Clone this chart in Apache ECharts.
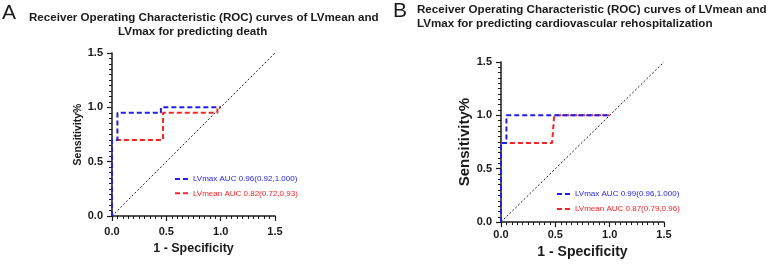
<!DOCTYPE html>
<html>
<head>
    <meta charset="UTF-8">
    <script type="text/javascript" src="https://cdn.jsdelivr.net/npm/echarts@6/dist/echarts.min.js"></script>
    <style type="text/css">
        *{
            margin: 0;
            padding: 0;
        }
        body{
            background: #fff;
        }
        #main{
            width: 779px;
            height: 264px;
        }
    </style>
</head>
<body>
<div id="main"></div>
<script type="text/javascript">
    // ROC points [1 - specificity, sensitivity]
    var maxDeath = [[0, 0], [0, 0.70], [0.05, 0.70], [0.05, 0.95], [0.45, 0.95], [0.45, 1.0], [1.0, 1.0]];
    var meanDeath = [[0, 0], [0, 0.70], [0.47, 0.70], [0.47, 0.95], [0.97, 0.95], [0.97, 1.0], [1.0, 1.0]];
    var maxRehosp = [[0, 0], [0, 0.74], [0.05, 0.74], [0.05, 1.0], [1.0, 1.0]];
    var meanRehosp = [[0, 0], [0, 0.74], [0.47, 0.74], [0.49, 1.0], [1.0, 1.0]];
    var refLine = [[0, 0], [1.5, 1.5]];

    var namesA = ['LVmax AUC 0.96(0.92,1.000)', 'LVmean AUC 0.82(0.72,0.93)'];
    var namesB = ['LVmax AUC 0.99(0.96,1.000)', 'LVmean AUC 0.87(0.79,0.96)'];
    var axisTicks = [0, 0.5, 1.0, 1.5];

    var BLUE = '#1f1fe6';
    var RED = '#f52525';
    var font = 'Liberation Sans, Arial, sans-serif';
    // two short dashes for the legend key
    var dashIcon = 'path://M0,0H5V2H0Z M8,0H13V2H8Z';

    function makeAxis(idx, isX, nameSize, nameGap, labelMargin) {
        return {
            type: 'value',
            gridIndex: idx,
            min: axisTicks[0],
            max: axisTicks[axisTicks.length - 1],
            interval: 0.5,
            name: isX ? '1 - Specificity' : 'Sensitivity%',
            nameLocation: 'middle',
            nameGap: nameGap,
            nameRotate: isX ? 0 : 90,
            nameTextStyle: {
                fontFamily: font,
                fontWeight: 'bold',
                fontSize: nameSize,
                color: '#1a1a1a'
            },
            axisLine: {show: true, onZero: false, lineStyle: {color: '#1a1a1a', width: 1.5}},
            axisTick: {show: true, inside: false, length: 5, lineStyle: {color: '#1a1a1a', width: 1.2}},
            minorTick: {show: true, splitNumber: 10, length: 3, lineStyle: {color: '#1a1a1a', width: 1}},
            splitLine: {show: false},
            axisLabel: {
                margin: labelMargin,
                fontFamily: font,
                fontWeight: 'bold',
                fontSize: 11,
                color: '#1a1a1a',
                formatter: function (v) { return v.toFixed(1); }
            }
        };
    }

    function rocSeries(name, data, color, idx) {
        return {
            name: name,
            type: 'line',
            xAxisIndex: idx,
            yAxisIndex: idx,
            data: data,
            showSymbol: false,
            symbol: 'none',
            silent: true,
            lineStyle: {color: color, width: 2, type: [5, 3]},
            itemStyle: {color: color}
        };
    }

    function diagSeries(idx) {
        return {
            type: 'line',
            xAxisIndex: idx,
            yAxisIndex: idx,
            data: refLine,
            showSymbol: false,
            symbol: 'none',
            silent: true,
            lineStyle: {color: '#222', width: 1, type: [2, 2]}
        };
    }

    function titleText(text, left, top, size, weight) {
        return {
            text: text, left: left, top: top, padding: 0,
            textStyle: {fontFamily: font, fontWeight: weight, fontSize: size, color: '#1a1a1a'}
        };
    }

    var myChart = echarts.init(document.getElementById('main'), null, {renderer: 'canvas'});
    var option = {
        animation: false,
        title: [
            titleText('A', 2, 3, 21, 'normal'),
            titleText('Receiver Operating Characteristic (ROC) curves of LVmean and', 29, 11.5, 11.6, 'bold'),
            titleText('LVmax for predicting death', 118, 25.5, 11.6, 'bold'),
            titleText('B', 393, 1, 21, 'normal'),
            titleText('Receiver Operating Characteristic (ROC) curves of LVmean and', 417, 4, 11.6, 'bold'),
            titleText('LVmax for predicting cardiovascular rehospitalization', 417, 18, 11.6, 'bold')
        ],
        legend: [
            {
                orient: 'vertical',
                left: 170,
                top: 170,
                icon: dashIcon,
                itemWidth: 13,
                itemHeight: 2,
                itemGap: 6.3,
                data: [
                    {name: namesA[0], textStyle: {color: BLUE}},
                    {name: namesA[1], textStyle: {color: RED}}
                ],
                textStyle: {fontFamily: font, fontSize: 8}
            },
            {
                orient: 'vertical',
                left: 552,
                top: 185,
                icon: dashIcon,
                itemWidth: 13,
                itemHeight: 2,
                itemGap: 7,
                data: [
                    {name: namesB[0], textStyle: {color: BLUE}},
                    {name: namesB[1], textStyle: {color: RED}}
                ],
                textStyle: {fontFamily: font, fontSize: 8}
            }
        ],
        grid: [
            {left: 112, top: 53, width: 163, height: 163},
            {left: 501, top: 62, width: 163, height: 161}
        ],
        xAxis: [
            makeAxis(0, true, 12.5, 26, 10),
            makeAxis(1, true, 14, 21, 7)
        ],
        yAxis: [
            makeAxis(0, false, 10.5, 27, 9),
            makeAxis(1, false, 15, 24, 9)
        ],
        series: [
            diagSeries(0),
            rocSeries(namesA[1], meanDeath, RED, 0),
            rocSeries(namesA[0], maxDeath, BLUE, 0),
            diagSeries(1),
            rocSeries(namesB[1], meanRehosp, RED, 1),
            rocSeries(namesB[0], maxRehosp, BLUE, 1)
        ]
    };
    myChart.setOption(option);
</script>
</body>
</html>
